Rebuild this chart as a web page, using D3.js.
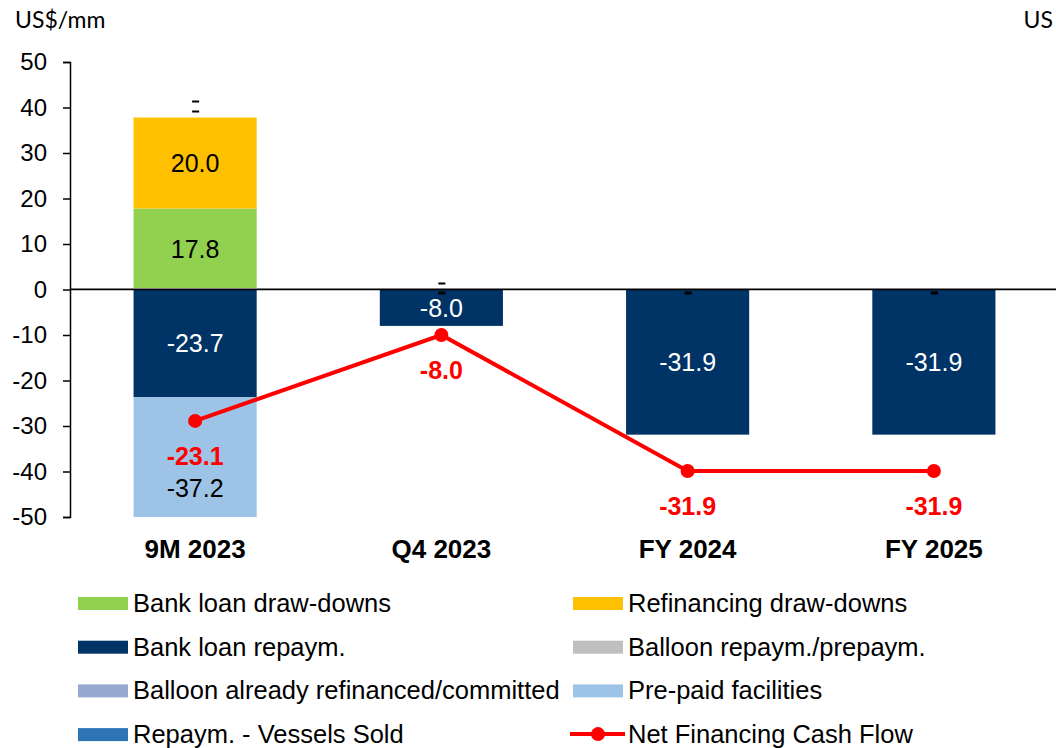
<!DOCTYPE html>
<html>
<head>
<meta charset="utf-8">
<script src="https://cdnjs.cloudflare.com/ajax/libs/d3/7.8.5/d3.min.js"></script>
<style>
  body { margin: 0; background: #fff; }
  svg { display: block; font-family: "Liberation Sans", Arial, sans-serif; }
</style>
</head>
<body>
<svg width="1056" height="748"></svg>
<script>
// data
var categories = ["9M 2023", "Q4 2023", "FY 2024", "FY 2025"];
var seriesNames = ["Bank loan draw-downs", "Refinancing draw-downs", "Bank loan repaym.",
    "Balloon repaym./prepaym.", "Balloon already refinanced/committed", "Pre-paid facilities",
    "Repaym. - Vessels Sold"];
var seriesColors = ["#92D050", "#FFC000", "#003366", "#BFBFBF", "#95A9D0", "#9DC3E6", "#2E75B6"];
var bankDraw = [17.8, 0, 0, 0];
var refiDraw = [20.0, 0, 0, 0];
var bankRepay = [-23.7, -8.0, -31.9, -31.9];
var balloonRepay = [0, 0, 0, 0];
var balloonRefi = [0, 0, 0, 0];
var prepaid = [-37.2, 0, 0, 0];
var vesselsSold = [0, 0, 0, 0];
var netFlow = [-23.1, -8.0, -31.9, -31.9];
var lineName = "Net Financing Cash Flow";
var yTicks = [50, 40, 30, 20, 10, 0, -10, -20, -30, -40, -50];
// zero-value labels ("-") shown above / below the stacks
var dashesAbove = [2, 1, 0, 0];
var dashesBelow = [0, 1, 1, 1];

var values = [bankDraw, refiDraw, bankRepay, balloonRepay, balloonRefi, prepaid, vesselsSold];

var width = 1056;
var height = 748;
var margin = {top: 62, bottom: 231, left: 70, right: 0};

// plain hyphen for negatives, like the original
var locale = d3.formatLocale({decimal: ".", thousands: ",", grouping: [3], currency: ["$", ""], minus: "-"});
var fmt1 = locale.format('.1f');
var fmt0 = locale.format('d');

var svg = d3.select('svg');

var xScale = d3.scaleBand()
    .domain(categories)
    .range([margin.left + 2, width + 1])
    .paddingInner(0.5)
    .paddingOuter(0.25);
var yScale = d3.scaleLinear()
    .domain([-50, 50])
    .range([height - margin.bottom, margin.top]);
// secondary axis for the line (hidden)
var y2Scale = d3.scaleLinear()
    .domain([-40, 40])
    .range([height - margin.bottom, margin.top]);

// build stacked segments
var segments = [];
categories.forEach(function (c, i) {
    var pos = 0, neg = 0;
    values.forEach(function (arr, s) {
        var v = arr[i];
        if (v === 0) return;
        var y0, y1;
        if (v > 0) { y0 = pos; y1 = pos + v; pos = y1; }
        else { y0 = neg; y1 = neg + v; neg = y1; }
        segments.push({cat: c, s: s, v: v, y0: y0, y1: y1});
    });
});

svg.append('clipPath').attr('id', 'plot')
    .append('rect')
    .attr('x', margin.left).attr('y', yScale(50))
    .attr('width', width - margin.left).attr('height', yScale(-50) - yScale(50));

var bars = svg.append('g').attr('clip-path', 'url(#plot)');
bars.selectAll('rect')
    .data(segments)
    .enter().append('rect')
    .attr('x', d => xScale(d.cat))
    .attr('width', xScale.bandwidth())
    .attr('y', d => yScale(Math.max(d.y0, d.y1)))
    .attr('height', d => Math.abs(yScale(d.y0) - yScale(d.y1)))
    .attr('fill', d => seriesColors[d.s]);

// zero line
svg.append('line')
    .attr('x1', margin.left).attr('x2', width)
    .attr('y1', yScale(0) - 1).attr('y2', yScale(0) - 1)
    .attr('stroke', '#aaa').attr('stroke-width', 1);
svg.append('line')
    .attr('x1', margin.left).attr('x2', width)
    .attr('y1', yScale(0)).attr('y2', yScale(0))
    .attr('stroke', '#000').attr('stroke-width', 1.5);

// y axis
var yAxis = d3.axisLeft(yScale)
    .tickValues(yTicks)
    .tickFormat(fmt0)
    .tickSize(7)
    .tickSizeOuter(7)
    .tickPadding(16);
var gy = svg.append('g')
    .attr('transform', 'translate(' + [margin.left, 0] + ')')
    .call(yAxis);
gy.select('.domain').attr('stroke', '#000').attr('stroke-width', 1.5);
gy.selectAll('.tick line').attr('stroke', '#000').attr('stroke-width', 1.5);
gy.selectAll('.tick text')
    .attr('font-size', 24)
    .attr('font-family', '"Liberation Sans", Arial, sans-serif')
    .attr('fill', '#000');

// segment labels (a segment running past the axis gets its label pushed a bit lower)
svg.selectAll('.seglabel')
    .data(segments)
    .enter().append('text')
    .attr('class', 'seglabel')
    .attr('x', d => xScale(d.cat) + xScale.bandwidth() / 2)
    .attr('y', d => yScale((d.y0 + d.y1) / 2) + (Math.min(d.y0, d.y1) < -50 ? 15 : 9))
    .attr('text-anchor', 'middle')
    .attr('font-size', 25)
    .attr('fill', d => d.s === 2 ? '#fff' : '#000')
    .text(d => fmt1(d.v));

// zero-value dash labels
categories.forEach(function (c, i) {
    var top = 0;
    values.forEach(function (arr) { if (arr[i] > 0) top += arr[i]; });
    d3.range(dashesAbove[i]).forEach(function (k) {
        svg.append('rect')
            .attr('x', xScale(c) + xScale.bandwidth() / 2 - 3)
            .attr('y', yScale(top) - 7 - k * 10)
            .attr('width', 7).attr('height', 2).attr('fill', '#000');
    });
    d3.range(dashesBelow[i]).forEach(function (k) {
        svg.append('rect')
            .attr('x', xScale(c) + xScale.bandwidth() / 2 - 3)
            .attr('y', yScale(0) + 2 + k * 10)
            .attr('width', 7).attr('height', 3).attr('fill', '#000');
    });
});

// net financing line on secondary axis
var lineData = categories.map((c, i) => ({cat: c, v: netFlow[i]}));
var line = d3.line()
    .x(d => xScale(d.cat) + xScale.bandwidth() / 2)
    .y(d => y2Scale(d.v));
svg.append('path')
    .datum(lineData)
    .attr('d', line)
    .attr('fill', 'none')
    .attr('stroke', '#FF0000')
    .attr('stroke-width', 4);
svg.selectAll('.dot')
    .data(lineData)
    .enter().append('circle')
    .attr('cx', d => xScale(d.cat) + xScale.bandwidth() / 2)
    .attr('cy', d => y2Scale(d.v))
    .attr('r', 7)
    .attr('fill', '#FF0000');
svg.selectAll('.linelabel')
    .data(lineData)
    .enter().append('text')
    .attr('x', d => xScale(d.cat) + xScale.bandwidth() / 2)
    .attr('y', d => y2Scale(d.v) + 44)
    .attr('text-anchor', 'middle')
    .attr('font-size', 25)
    .attr('font-weight', 'bold')
    .attr('fill', '#FF0000')
    .text(d => fmt1(d.v));

// category labels
svg.selectAll('.cat')
    .data(categories)
    .enter().append('text')
    .attr('x', d => xScale(d) + xScale.bandwidth() / 2)
    .attr('y', 558)
    .attr('text-anchor', 'middle')
    .attr('font-size', 26)
    .attr('font-weight', 'bold')
    .text(d => d);

// unit labels
svg.append('text').attr('x', 15).attr('y', 28)
    .attr('font-size', 23).attr('font-family', 'Lato, sans-serif').text('US$/mm');
svg.append('text').attr('x', 1053).attr('y', 28)
    .attr('text-anchor', 'end')
    .attr('font-size', 23).attr('font-family', 'Lato, sans-serif').text('US');

// legend
var legendItems = [];
seriesNames.forEach((n, i) => legendItems.push({name: n, color: seriesColors[i], line: false}));
legendItems.push({name: lineName, color: '#FF0000', line: true});
var legend = svg.append('g');
legendItems.forEach(function (d, i) {
    var col = i % 2, row = Math.floor(i / 2);
    var g = legend.append('g')
        .attr('transform', 'translate(' + [col === 0 ? 78 : 573, 603 + row * 43.7] + ')');
    if (d.line) {
        g.append('line').attr('x1', -3).attr('x2', 52).attr('y1', 0).attr('y2', 0)
            .attr('stroke', d.color).attr('stroke-width', 4);
        g.append('circle').attr('cx', 25).attr('cy', 0).attr('r', 7).attr('fill', d.color);
    } else {
        g.append('rect').attr('x', 0).attr('y', -6).attr('width', 50).attr('height', 13)
            .attr('fill', d.color);
    }
    g.append('text').attr('x', 55).attr('y', 9)
        .attr('font-size', 25.5).text(d.name);
});
</script>
</body>
</html>
